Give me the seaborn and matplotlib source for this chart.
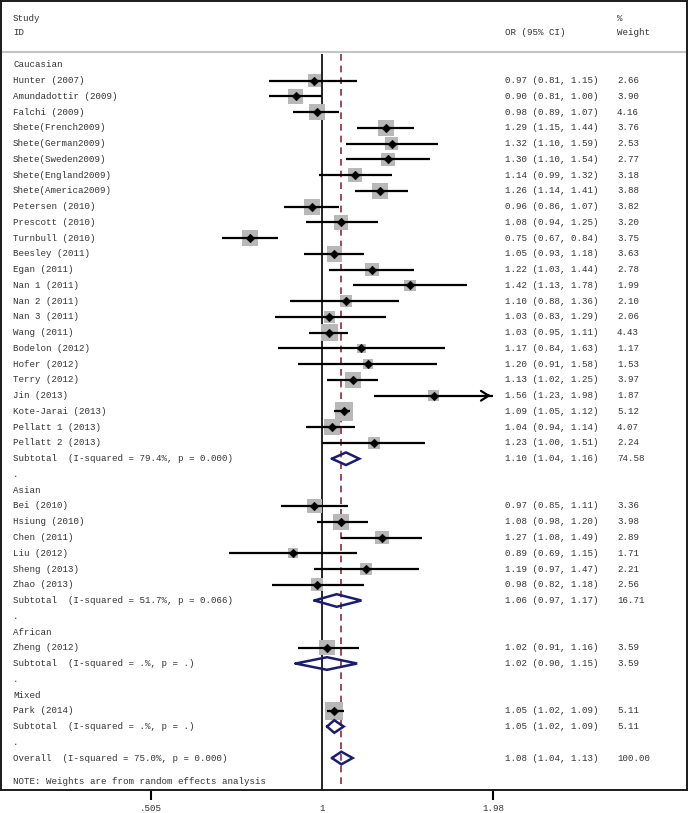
import numpy as np
import seaborn as sns
import matplotlib.pyplot as plt
from matplotlib.transforms import blended_transform_factory
from matplotlib.ticker import NullLocator

# study level data (OR, 95% CI, % weight)
groups = ["Caucasian", "Asian", "African", "Mixed"]
study_group = ["Caucasian"] * 24 + ["Asian"] * 6 + ["African"] + ["Mixed"]
study_ids = [
    "Hunter (2007)", "Amundadottir (2009)", "Falchi (2009)", "Shete(French2009)",
    "Shete(German2009)", "Shete(Sweden2009)", "Shete(England2009)", "Shete(America2009)",
    "Petersen (2010)", "Prescott (2010)", "Turnbull (2010)", "Beesley (2011)",
    "Egan (2011)", "Nan 1 (2011)", "Nan 2 (2011)", "Nan 3 (2011)", "Wang (2011)",
    "Bodelon (2012)", "Hofer (2012)", "Terry (2012)", "Jin (2013)", "Kote-Jarai (2013)",
    "Pellatt 1 (2013)", "Pellatt 2 (2013)",
    "Bei (2010)", "Hsiung (2010)", "Chen (2011)", "Liu (2012)", "Sheng (2013)", "Zhao (2013)",
    "Zheng (2012)",
    "Park (2014)",
]
or_vals = [0.97, 0.90, 0.98, 1.29, 1.32, 1.30, 1.14, 1.26, 0.96, 1.08, 0.75, 1.05,
           1.22, 1.42, 1.10, 1.03, 1.03, 1.17, 1.20, 1.13, 1.56, 1.09, 1.04, 1.23,
           0.97, 1.08, 1.27, 0.89, 1.19, 0.98,
           1.02,
           1.05]
ci_low = [0.81, 0.81, 0.89, 1.15, 1.10, 1.10, 0.99, 1.14, 0.86, 0.94, 0.67, 0.93,
          1.03, 1.13, 0.88, 0.83, 0.95, 0.84, 0.91, 1.02, 1.23, 1.05, 0.94, 1.00,
          0.85, 0.98, 1.08, 0.69, 0.97, 0.82,
          0.91,
          1.02]
ci_high = [1.15, 1.00, 1.07, 1.44, 1.59, 1.54, 1.32, 1.41, 1.07, 1.25, 0.84, 1.18,
           1.44, 1.78, 1.36, 1.29, 1.11, 1.63, 1.58, 1.25, 1.98, 1.12, 1.14, 1.51,
           1.11, 1.20, 1.49, 1.15, 1.47, 1.18,
           1.16,
           1.09]
weights = [2.66, 3.90, 4.16, 3.76, 2.53, 2.77, 3.18, 3.88, 3.82, 3.20, 3.75, 3.63,
           2.78, 1.99, 2.10, 2.06, 4.43, 1.17, 1.53, 3.97, 1.87, 5.12, 4.07, 2.24,
           3.36, 3.98, 2.89, 1.71, 2.21, 2.56,
           3.59,
           5.11]

# pooled estimates per subgroup
sub_labels = ["Subtotal  (I-squared = 79.4%, p = 0.000)",
              "Subtotal  (I-squared = 51.7%, p = 0.066)",
              "Subtotal  (I-squared = .%, p = .)",
              "Subtotal  (I-squared = .%, p = .)"]
sub_or = [1.10, 1.06, 1.02, 1.05]
sub_low = [1.04, 0.97, 0.90, 1.02]
sub_high = [1.16, 1.17, 1.15, 1.09]
sub_weight = [74.58, 16.71, 3.59, 5.11]

overall_label = "Overall  (I-squared = 75.0%, p = 0.000)"
overall_or, overall_low, overall_high = 1.08, 1.04, 1.13
x_ticks = [0.505, 1, 1.98]
x_ticklabels = [".505", "1", "1.98"]

sns.set_style("white")
plt.rcParams["font.family"] = ["Liberation Mono", "DejaVu Sans Mono"]
TXT = "#333333"
FS = 6.6

fig = plt.figure(figsize=(6.89, 8.13), dpi=100)
ax = fig.add_axes([1 / 689, 23 / 813, 686 / 689, 789 / 813])
ax.set_xscale("log")
ax.set_xlim(0.2783, 4.281)
ax.set_ylim(46.03, -4.06)
tr = blended_transform_factory(ax.transAxes, ax.transData)
xc_lab, xc_or, xc_w = 0.0175, 0.7347, 0.898

def fmt(o, l, h):
    return f"{o:.2f} ({l:.2f}, {h:.2f})"

def put(x, y, s):
    ax.text(x, y, s, transform=tr, va="center", fontsize=FS, color=TXT)

# build rows
rows_study, rows_sub = [], []
r = 0
for gi, g in enumerate(groups):
    put(xc_lab, r, g)
    r += 1
    for i, sg in enumerate(study_group):
        if sg != g:
            continue
        rows_study.append(r)
        put(xc_lab, r, study_ids[i])
        put(xc_or, r, fmt(or_vals[i], ci_low[i], ci_high[i]))
        put(xc_w, r, f"{weights[i]:.2f}")
        r += 1
    rows_sub.append(r)
    put(xc_lab, r, sub_labels[gi])
    put(xc_or, r, fmt(sub_or[gi], sub_low[gi], sub_high[gi]))
    put(xc_w, r, f"{sub_weight[gi]:.2f}")
    r += 1
    put(xc_lab, r, ".")
    r += 1
row_overall = r
put(xc_lab, r, overall_label)
put(xc_or, r, fmt(overall_or, overall_low, overall_high))
put(xc_w, r, "100.00")
put(xc_lab, r + 1.5, "NOTE: Weights are from random effects analysis")

# header
put(xc_lab, -2.98, "Study")
put(xc_lab, -2.03, "ID")
put(xc_or, -2.03, "OR (95% CI)")
put(xc_w, -2.98, "%")
put(xc_w, -2.03, "Weight")
ax.axhline(-0.83, color="#c4c4c4", lw=1.5)

# reference lines
ax.vlines(1, -0.7, 46.03, color="black", lw=1.2, zorder=1)
ax.vlines(overall_or, -0.7, 46.03, color="#8b2c3c", lw=1.2, linestyles=(0, (4, 3)), zorder=1)

# weight boxes
w = np.array(weights)
sns.scatterplot(x=or_vals, y=rows_study, size=w, sizes=(33 * w.min(), 33 * w.max()),
                size_norm=(w.min(), w.max()), marker="s", color="#b8b8b8",
                edgecolor="none", legend=False, ax=ax, zorder=2)

# confidence intervals
for o, lo, hi, yy in zip(or_vals, ci_low, ci_high, rows_study):
    ax.plot([lo, hi], [yy, yy], color="black", lw=1.6, zorder=3, solid_capstyle="butt")
    if hi >= 1.98:
        ax.annotate("", xy=(hi, yy), xytext=(hi * 0.97, yy),
                    arrowprops=dict(arrowstyle="->,head_length=0.55,head_width=0.35",
                                    color="black", lw=1.6), zorder=3)

sns.scatterplot(x=or_vals, y=rows_study, marker="D", s=20, color="black",
                edgecolor="black", linewidth=0.3, legend=False, ax=ax, zorder=4)

# pooled diamonds
def diamond(o, lo, hi, yy, h=0.4):
    ax.plot([lo, o, hi, o, lo], [yy, yy - h, yy, yy + h, yy], color="#1c1c6e",
            lw=1.8, zorder=4, solid_joinstyle="miter")

for gi in range(len(groups)):
    diamond(sub_or[gi], sub_low[gi], sub_high[gi], rows_sub[gi])
diamond(overall_or, overall_low, overall_high, row_overall)

# axis styling
ax.set_xticks(x_ticks)
ax.set_xticklabels(x_ticklabels, fontsize=FS, color=TXT)
ax.xaxis.set_minor_locator(NullLocator())
ax.set_yticks([])
ax.tick_params(axis="x", bottom=True, length=7, width=1.5, direction="out", pad=3, color="black")
ax.xaxis.get_major_ticks()[1].tick1line.set_visible(False)
for s in ax.spines.values():
    s.set_visible(True)
    s.set_color("#1a1a1a")
    s.set_linewidth(1.4)

fig.savefig("out.png", dpi=100)
